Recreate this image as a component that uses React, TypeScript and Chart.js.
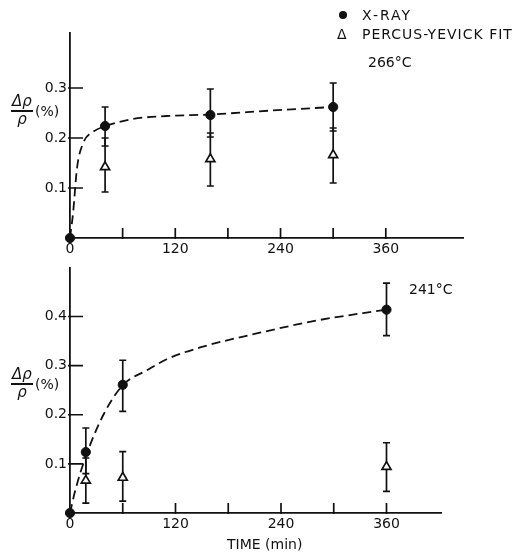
import React, { useEffect, useRef } from "react";
import { Chart, registerables } from "chart.js";
Chart.register(...registerables);

// ---------- data: top panel (266°C) ----------
const topXrayTime = [0, 40, 160, 300];
const topXray = [0, 0.224, 0.246, 0.262];
const topXrayLo = [0, 0.184, 0.202, 0.214];
const topXrayHi = [0, 0.262, 0.298, 0.31];
const topPYTime = [40, 160, 300];
const topPY = [0.142, 0.158, 0.166];
const topPYLo = [0.092, 0.104, 0.11];
const topPYHi = [0.2, 0.21, 0.22];
const topCurveTime = [0, 3.5, 8, 15, 26, 41, 72, 110, 160, 230, 300];
const topCurve = [0, 0.05, 0.14, 0.19, 0.212, 0.224, 0.238, 0.244, 0.247, 0.255, 0.262];
const topYTicks = [0.1, 0.2, 0.3];

// ---------- data: bottom panel (241°C) ----------
const botXrayTime = [0, 18, 60, 360];
const botXray = [0, 0.124, 0.261, 0.414];
const botXrayLo = [0, 0.08, 0.207, 0.361];
const botXrayHi = [0, 0.173, 0.311, 0.468];
const botPYTime = [18, 60, 360];
const botPY = [0.066, 0.072, 0.094];
const botPYLo = [0.02, 0.024, 0.044];
const botPYHi = [0.112, 0.125, 0.143];
const botCurveTime = [0, 6, 18, 38, 60, 88, 110, 148, 216, 281, 360];
const botCurve = [0, 0.046, 0.115, 0.2, 0.26, 0.291, 0.313, 0.337, 0.367, 0.392, 0.414];
const botYTicks = [0.1, 0.2, 0.3, 0.4];

const xTickMarks = [60, 120, 180, 240, 300, 360];
const xTickLabels = [0, 120, 240, 360];

const FONT = "'DejaVu Sans', sans-serif";
const INK = "#111";

type Panel = {
  xMax: number; yMax: number;
  xt: number[]; xv: number[]; xlo: number[]; xhi: number[];
  pt: number[]; pv: number[]; plo: number[]; phi: number[];
  ct: number[]; cv: number[]; yTicks: number[];
  height: number; padTop: number; padRight: number; xAxisH: number;
};

const panels: Panel[] = [
  {
    xMax: 448, yMax: 0.41,
    xt: topXrayTime, xv: topXray, xlo: topXrayLo, xhi: topXrayHi,
    pt: topPYTime, pv: topPY, plo: topPYLo, phi: topPYHi,
    ct: topCurveTime, cv: topCurve, yTicks: topYTicks,
    height: 262, padTop: 33, padRight: 51, xAxisH: 24,
  },
  {
    xMax: 422, yMax: 0.5,
    xt: botXrayTime, xv: botXray, xlo: botXrayLo, xhi: botXrayHi,
    pt: botPYTime, pv: botPY, plo: botPYLo, phi: botPYHi,
    ct: botCurveTime, cv: botCurve, yTicks: botYTicks,
    height: 298, padTop: 7, padRight: 73, xAxisH: 41,
  },
];

function PanelChart({ p, top }: { p: Panel; top: number }) {
  const ref = useRef<HTMLCanvasElement>(null);
  useEffect(() => {
    if (!ref.current) return;
    const errPlugin = {
      id: "errs",
      beforeDatasetsDraw(chart: any) {
        const ctx = chart.ctx;
        const xs = chart.scales.x, ys = chart.scales.y;
        ctx.save();
        ctx.strokeStyle = INK;
        ctx.lineWidth = 1.7;
        const bar = (t: number, lo: number, hi: number) => {
          if (hi - lo <= 0) return;
          const x = xs.getPixelForValue(t);
          const y1 = ys.getPixelForValue(lo), y2 = ys.getPixelForValue(hi);
          ctx.beginPath();
          ctx.moveTo(x, y1); ctx.lineTo(x, y2);
          ctx.moveTo(x - 3.5, y1); ctx.lineTo(x + 3.5, y1);
          ctx.moveTo(x - 3.5, y2); ctx.lineTo(x + 3.5, y2);
          ctx.stroke();
        };
        p.xt.forEach((t, i) => bar(t, p.xlo[i], p.xhi[i]));
        p.pt.forEach((t, i) => bar(t, p.plo[i], p.phi[i]));
        // inward tick marks
        ctx.lineWidth = 1.7;
        ctx.beginPath();
        xTickMarks.forEach((v) => {
          const x = xs.getPixelForValue(v);
          const y0 = ys.getPixelForValue(0);
          ctx.moveTo(x, y0 + 1); ctx.lineTo(x, y0 - 10);
        });
        p.yTicks.forEach((v) => {
          const y = ys.getPixelForValue(v);
          const x0 = xs.getPixelForValue(0);
          ctx.moveTo(x0 - 2, y); ctx.lineTo(x0 + 13, y);
        });
        ctx.stroke();
        ctx.restore();
      },
    };
    const chart = new Chart(ref.current, {
      type: "scatter",
      data: {
        datasets: [
          {
            label: "X-RAY",
            data: p.xt.map((t, i) => ({ x: t, y: p.xv[i] })),
            pointStyle: "circle",
            pointRadius: 4.6,
            backgroundColor: INK,
            borderColor: INK,
            borderWidth: 1,
            clip: false,
          } as any,
          {
            label: "PERCUS-YEVICK FIT",
            data: p.pt.map((t, i) => ({ x: t, y: p.pv[i] })),
            pointStyle: "triangle",
            pointRadius: 5.2,
            backgroundColor: "#fff",
            borderColor: INK,
            borderWidth: 1.7,
            clip: false,
          } as any,
          {
            type: "line",
            label: "fit",
            data: p.ct.map((t, i) => ({ x: t, y: p.cv[i] })),
            showLine: true,
            borderColor: INK,
            borderWidth: 1.8,
            borderDash: [9, 5],
            pointRadius: 0,
            cubicInterpolationMode: "monotone",
            fill: false,
            clip: false,
          } as any,
        ],
      },
      options: {
        animation: false,
        responsive: false,
        events: [],
        layout: { padding: { top: p.padTop, right: p.padRight, left: 0, bottom: 0 } },
        plugins: { legend: { display: false }, tooltip: { enabled: false } },
        scales: {
          x: {
            type: "linear",
            min: 0,
            max: p.xMax,
            grid: { display: false, drawTicks: false },
            border: { display: true, color: INK, width: 1.8 },
            afterBuildTicks: (s: any) => { s.ticks = xTickLabels.map((v) => ({ value: v })); },
            afterFit: (s: any) => { s.height = p.xAxisH; },
            ticks: {
              padding: 3,
              color: INK,
              font: { family: FONT, size: 14 },
              callback: (v: any) => String(v),
              maxRotation: 0,
              autoSkip: false,
            },
          },
          y: {
            type: "linear",
            min: 0,
            max: p.yMax,
            grid: { display: false, drawTicks: false },
            border: { display: true, color: INK, width: 1.8 },
            afterBuildTicks: (s: any) => { s.ticks = p.yTicks.map((v) => ({ value: v })); },
            afterFit: (s: any) => { s.width = 70; },
            ticks: {
              padding: 3,
              color: INK,
              font: { family: FONT, size: 14 },
              callback: (v: any) => Number(v).toFixed(1),
              autoSkip: false,
            },
          },
        },
      },
      plugins: [errPlugin],
    } as any);
    return () => chart.destroy();
  }, [p]);
  return (
    <canvas
      ref={ref}
      width={514}
      height={p.height}
      style={{ position: "absolute", left: 0, top, width: 514, height: p.height }}
    />
  );
}

const txt = (left: number, top: number, extra: any = {}) => ({
  position: "absolute" as const,
  left,
  top,
  fontFamily: FONT,
  fontSize: 14,
  lineHeight: "15px",
  color: INK,
  whiteSpace: "nowrap" as const,
  ...extra,
});

function YLabel({ top }: { top: number }) {
  return (
    <>
      <div style={txt(10, top, { width: 24, textAlign: "center", fontStyle: "italic", fontSize: 15 })}>Δρ</div>
      <div style={{ position: "absolute", left: 11, top: top + 16, width: 22, height: 1.8, background: INK }} />
      <div style={txt(10, top + 18, { width: 24, textAlign: "center", fontStyle: "italic", fontSize: 15 })}>ρ</div>
      <div style={txt(35, top + 10)}>(%)</div>
    </>
  );
}

export default function App() {
  return (
    <div style={{ position: "fixed", left: 0, top: 0, width: 514, height: 554, background: "#fff", overflow: "hidden" }}>
      <PanelChart p={panels[0]} top={0} />
      <PanelChart p={panels[1]} top={256} />
      {/* legend */}
      <div style={{ position: "absolute", left: 339, top: 11, width: 8, height: 8, borderRadius: 4, background: INK }} />
      <div style={txt(362, 8, { letterSpacing: 2 })}>X-RAY</div>
      <div style={txt(337, 27)}>Δ</div>
      <div style={txt(362, 27, { letterSpacing: 1 })}>PERCUS-YEVICK FIT</div>
      <div style={txt(368, 55)}>266°C</div>
      <div style={txt(409, 282)}>241°C</div>
      <div style={txt(227, 537)}>TIME (min)</div>
      <YLabel top={94} />
      <YLabel top={367} />
    </div>
  );
}
